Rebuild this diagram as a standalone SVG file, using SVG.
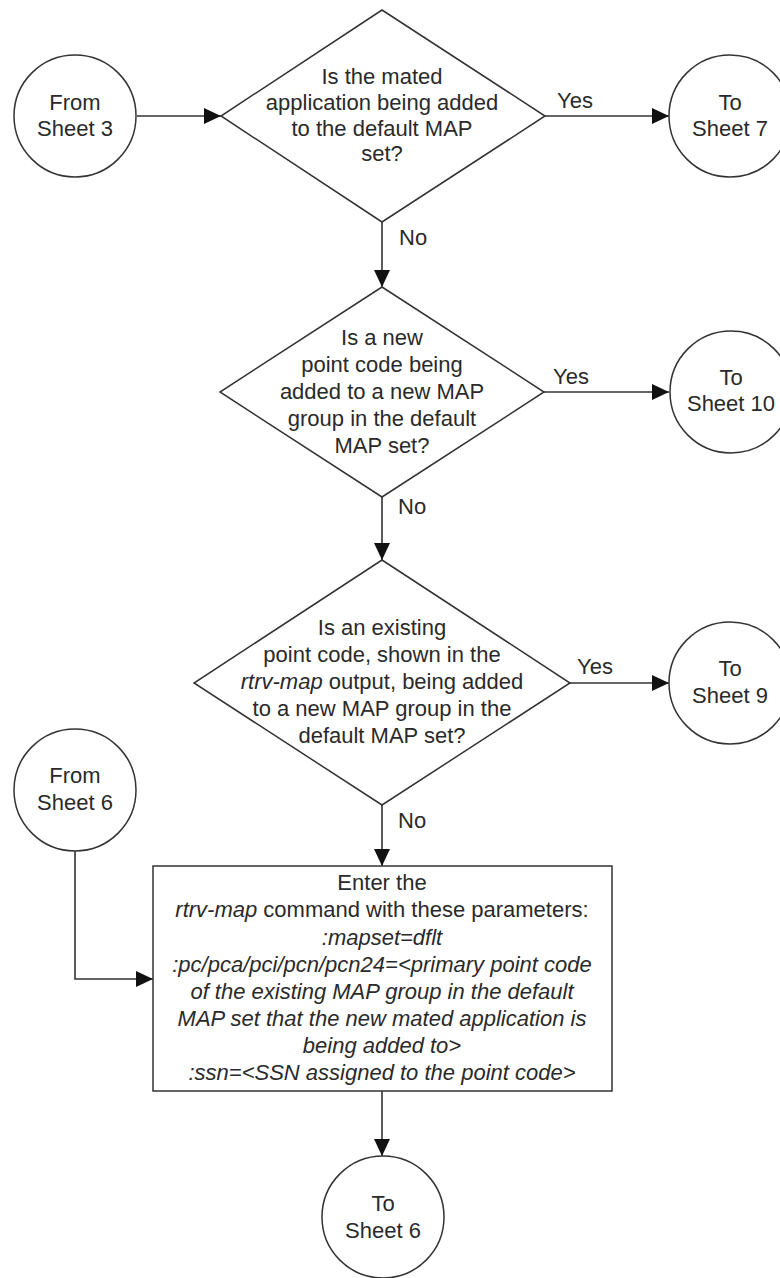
<svg xmlns="http://www.w3.org/2000/svg" width="780" height="1278" viewBox="0 0 780 1278">
<style>
.s{fill:#fff;stroke:#333;stroke-width:1.5}
.c{fill:none;stroke:#333;stroke-width:1.6}
text{font-family:"Liberation Sans",Arial,sans-serif;font-size:22px;fill:#2a2a2a;text-anchor:middle}
.l{text-anchor:start}
.i{font-style:italic}
</style>
<defs>
<marker id="ah" markerUnits="userSpaceOnUse" markerWidth="17" markerHeight="16" refX="17" refY="8" orient="auto">
<path d="M0,0 L17,8 L0,16 z" fill="#111"/>
</marker>
</defs>
<rect width="780" height="1278" fill="#fff"/>
<g id="connectors">
<path class="c" d="M137,116 H221" marker-end="url(#ah)"/>
<path class="c" d="M545,116 H669" marker-end="url(#ah)"/>
<path class="c" d="M382,222 V287" marker-end="url(#ah)"/>
<path class="c" d="M544,392 H669" marker-end="url(#ah)"/>
<path class="c" d="M382,497 V560" marker-end="url(#ah)"/>
<path class="c" d="M570,683 H669" marker-end="url(#ah)"/>
<path class="c" d="M382,805 V866" marker-end="url(#ah)"/>
<path class="c" d="M75,851 V979 H153" marker-end="url(#ah)"/>
<path class="c" d="M382,1091 V1156" marker-end="url(#ah)"/>
<text class="l" x="557" y="108">Yes</text>
<text class="l" x="399" y="245">No</text>
<text class="l" x="553" y="384">Yes</text>
<text class="l" x="398" y="514">No</text>
<text class="l" x="577" y="674">Yes</text>
<text class="l" x="398" y="828">No</text>
</g>
<g id="from3">
<circle class="s" cx="75" cy="116" r="61"/>
<text x="75" y="110">From</text>
<text x="75" y="136">Sheet 3</text>
</g>
<g id="d1">
<polygon class="s" points="382,10 545,116 382,222 221,116"/>
<text x="382" y="84">Is the mated</text>
<text x="382" y="110">application being added</text>
<text x="382" y="136">to the default MAP</text>
<text x="382" y="161">set?</text>
</g>
<g id="to7">
<circle class="s" cx="730" cy="116" r="61"/>
<text x="730" y="110">To</text>
<text x="730" y="136">Sheet 7</text>
</g>
<g id="d2">
<polygon class="s" points="382,287 544,392 382,497 220,392"/>
<text x="382" y="345">Is a new</text>
<text x="382" y="372">point code being</text>
<text x="382" y="399">added to a new MAP</text>
<text x="382" y="426">group in the default</text>
<text x="382" y="453">MAP set?</text>
</g>
<g id="to10">
<circle class="s" cx="731" cy="392" r="61"/>
<text x="731" y="385">To</text>
<text x="731" y="411">Sheet 10</text>
</g>
<g id="d3">
<polygon class="s" points="382,560 570,683 382,805 194,683"/>
<text x="382" y="635">Is an existing</text>
<text x="382" y="662">point code, shown in the</text>
<text x="382" y="689"><tspan class="i">rtrv-map</tspan> output, being added</text>
<text x="382" y="716">to a new MAP group in the</text>
<text x="382" y="743">default MAP set?</text>
</g>
<g id="to9">
<circle class="s" cx="730" cy="683" r="61"/>
<text x="730" y="676">To</text>
<text x="730" y="703">Sheet 9</text>
</g>
<g id="from6">
<circle class="s" cx="75" cy="790" r="61"/>
<text x="75" y="783">From</text>
<text x="75" y="810">Sheet 6</text>
</g>
<g id="box">
<rect class="s" x="153" y="866" width="459" height="225"/>
<text x="382" y="890">Enter the</text>
<text x="382" y="917"><tspan class="i">rtrv-map</tspan> command with these parameters:</text>
<text class="i" x="382" y="945">:mapset=dflt</text>
<text class="i" x="382" y="972">:pc/pca/pci/pcn/pcn24=&lt;primary point code</text>
<text class="i" x="382" y="999">of the existing MAP group in the default</text>
<text class="i" x="382" y="1026">MAP set that the new mated application is</text>
<text class="i" x="382" y="1053">being added to&gt;</text>
<text class="i" x="382" y="1080">:ssn=&lt;SSN assigned to the point code&gt;</text>
</g>
<g id="to6">
<circle class="s" cx="383" cy="1217" r="61"/>
<text x="383" y="1211">To</text>
<text x="383" y="1238">Sheet 6</text>
</g>
</svg>
